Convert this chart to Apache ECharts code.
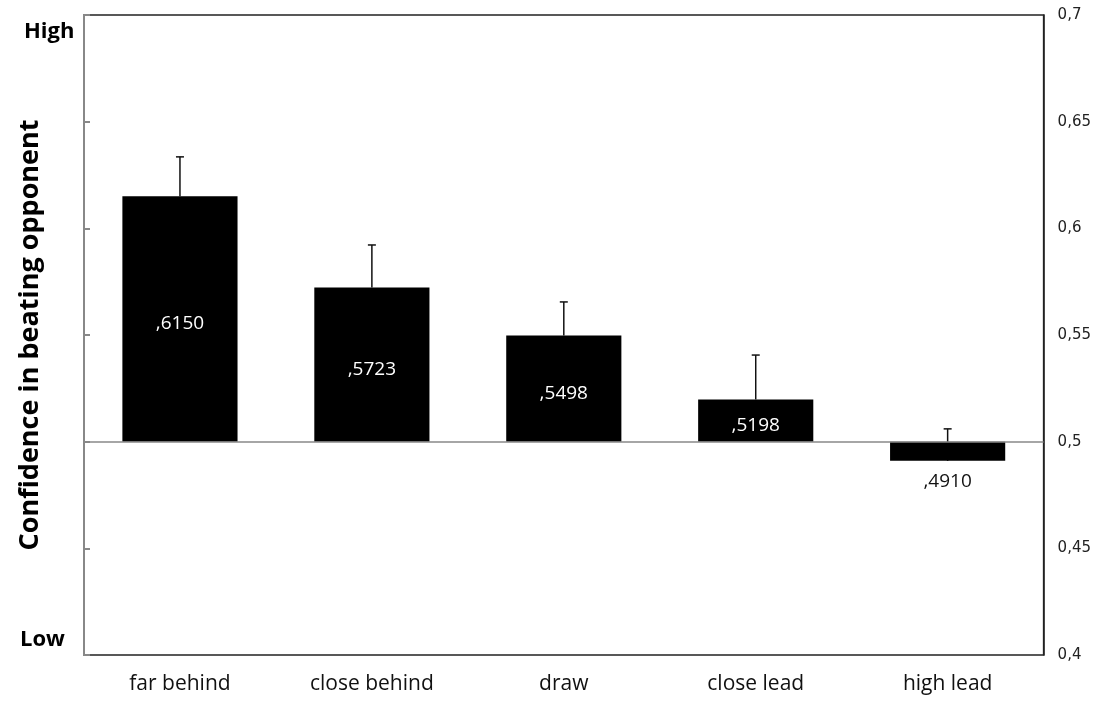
<!DOCTYPE html>
<html><head><meta charset="utf-8">
<script src="https://cdn.jsdelivr.net/npm/echarts@6/dist/echarts.min.js"></script>
<style>html,body{margin:0;padding:0;background:#fff}#c{width:1094px;height:701px}</style>
</head><body><div id="c"></div>
<script>
var categories = ['far behind', 'close behind', 'draw', 'close lead', 'high lead'];
var values = [0.6150, 0.5723, 0.5498, 0.5198, 0.4910];
var labels = [',6150', ',5723', ',5498', ',5198', ',4910'];
var errors = [0.0185, 0.0199, 0.0157, 0.0208, 0.0150];
var baseline = 0.5;
var rightTicks = ['0,4', '0,45', '0,5', '0,55', '0,6', '0,65', '0,7'];

var chart = echarts.init(document.getElementById('c'));
var font = '"Open Sans", sans-serif';
chart.setOption({
  animation: false,
  grid: {left: 84, right: 50, top: 15, bottom: 46, show: true, borderColor: '#222', borderWidth: 1.5, backgroundColor: 'transparent'},
  xAxis: {
    type: 'category', data: categories,
    axisLine: {show: false}, axisTick: {show: false},
    axisLabel: {color: '#111', fontSize: 21, fontFamily: font, margin: 19}
  },
  yAxis: [{
    type: 'value', min: 0.4, max: 0.7, interval: 0.05, position: 'left',
    name: 'Confidence in beating opponent', nameLocation: 'middle', nameRotate: 90, nameGap: 40,
    nameTextStyle: {fontSize: 27, fontWeight: 'bold', color: '#000', fontFamily: font},
    axisLine: {show: true, lineStyle: {color: '#888', width: 2}},
    axisTick: {show: true, inside: true, length: 6, lineStyle: {color: '#888', width: 2}},
    axisLabel: {show: false}, splitLine: {show: false}
  }, {
    type: 'value', min: 0.4, max: 0.7, interval: 0.05, position: 'right',
    axisLine: {show: true, lineStyle: {color: '#222', width: 1.5}},
    axisTick: {show: false}, splitLine: {show: false},
    axisLabel: {color: '#222', fontSize: 15, fontFamily: 'DejaVu Sans', margin: 14,
      formatter: function (v) { return rightTicks[Math.round((v - 0.4) / 0.05)]; }}
  }],
  graphic: [
    {type: 'text', left: 24, top: 21, style: {text: 'High', fontSize: 22, fontWeight: 'bold', fontFamily: font, fill: '#000'}},
    {type: 'text', left: 20, top: 629, style: {text: 'Low', fontSize: 22, fontWeight: 'bold', fontFamily: font, fill: '#000'}}
  ],
  series: [{
    type: 'custom',
    data: values.map(function (v, i) { return [i, v, errors[i]]; }),
    renderItem: function (params, api) {
      var i = api.value(0), v = api.value(1), e = api.value(2);
      var w = api.size([1, 0])[0] * 0.6;
      var pBase = api.coord([i, baseline]);
      var pVal = api.coord([i, v]);
      var pErr = api.coord([i, v + e]);
      var x = pBase[0];
      var top = Math.min(pBase[1], pVal[1]);
      var h = Math.abs(pBase[1] - pVal[1]);
      var pos = v >= baseline;
      return {
        type: 'group',
        children: [
          {type: 'line', shape: {x1: x, y1: pVal[1], x2: x, y2: pErr[1]}, style: {stroke: '#111', lineWidth: 1.5}},
          {type: 'line', shape: {x1: x - 4, y1: pErr[1], x2: x + 4, y2: pErr[1]}, style: {stroke: '#111', lineWidth: 1.5}},
          {type: 'rect', shape: {x: x - w / 2, y: top, width: w, height: h}, style: {fill: '#000'}},
          {type: 'text', x: x, y: pos ? top + h / 2 + 5 : top + h + 21,
            style: {text: labels[params.dataIndex], fill: pos ? '#fff' : '#111', fontSize: 19, fontFamily: font, align: 'center', verticalAlign: 'middle'}}
        ]
      };
    },
    markLine: {
      silent: true, symbol: 'none', label: {show: false},
      lineStyle: {color: '#888', width: 1.5, type: 'solid'},
      data: [{yAxis: baseline}]
    },
    z: 3
  }]
});
</script>
</body></html>
